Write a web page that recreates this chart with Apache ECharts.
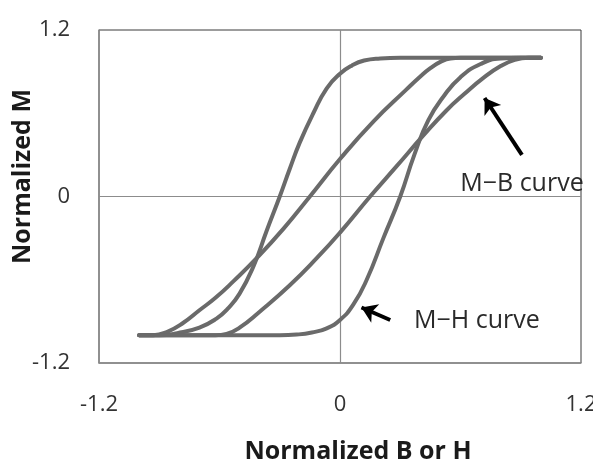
<!DOCTYPE html>
<html>
<head>
<meta charset="utf-8">
<script src="https://cdn.jsdelivr.net/npm/echarts@6/dist/echarts.min.js"></script>
<style>
html,body{margin:0;padding:0;background:#ffffff;}
#chart{width:593px;height:459px;}
</style>
</head>
<body>
<div id="chart"></div>
<script>
// Axis ticks
const xTicks = [-1.2, 0, 1.2];
const yTicks = [-1.2, 0, 1.2];

// Branch data: [normalized B or H, normalized M]
const mhDescending = [
  [1.0, 1.0], [0.3, 1.0], [0.2, 0.995], [0.12, 0.98], [0.06, 0.945], [0.0, 0.885],
  [-0.066, 0.78], [-0.133, 0.6], [-0.2, 0.39], [-0.25, 0.2], [-0.3, 0.0],
  [-0.366, -0.25], [-0.43, -0.5], [-0.5, -0.7], [-0.56, -0.81], [-0.615, -0.88],
  [-0.7, -0.945], [-0.81, -0.985], [-0.9, -1.0], [-1.0, -1.0]
];
const mhAscending = [
  [-1.0, -1.0], [-0.3, -1.0], [-0.216, -0.995], [-0.14, -0.98], [-0.066, -0.95],
  [0.0, -0.89], [0.066, -0.78], [0.133, -0.6], [0.216, -0.3], [0.3, 0.0],
  [0.37, 0.3], [0.44, 0.55], [0.52, 0.73], [0.6, 0.86], [0.7, 0.955], [0.8, 0.995], [0.9, 1.0], [1.0, 1.0]
];
const mbDescending = [
  [1.0, 1.0], [0.6, 1.0], [0.55, 0.995], [0.5, 0.97], [0.45, 0.925], [0.4, 0.865],
  [0.33, 0.77], [0.166, 0.54], [0.0, 0.27], [-0.15, 0.0], [-0.28, -0.23],
  [-0.415, -0.445], [-0.53, -0.61], [-0.62, -0.73], [-0.7, -0.82], [-0.78, -0.91],
  [-0.86, -0.975], [-0.93, -1.0], [-1.0, -1.0]
];
const mbAscending = [
  [-1.0, -1.0], [-0.62, -1.0], [-0.565, -0.99], [-0.5, -0.945], [-0.4, -0.83],
  [-0.25, -0.64], [-0.116, -0.445], [0.0, -0.26], [0.15, 0.0], [0.28, 0.215],
  [0.415, 0.44], [0.53, 0.62], [0.62, 0.74], [0.714, 0.855], [0.8, 0.94], [0.87, 0.985],
  [0.94, 1.0], [1.0, 1.0]
];

// Annotation texts
const annotationTexts = ['M\u2212B curve', 'M\u2212H curve'];

const chart = echarts.init(document.getElementById('chart'), null, {renderer: 'canvas'});

const curveStyle = {color: '#6a6a6a', width: 4, cap: 'round', join: 'round'};
function branch(name, data) {
  return {
    name: name,
    type: 'line',
    data: data,
    showSymbol: false,
    smooth: 0.5,
    lineStyle: curveStyle,
    itemStyle: {color: '#6a6a6a'},
    silent: true,
    clip: false,
    z: 3
  };
}

const font = '"Open Sans", "Noto Sans", sans-serif';

const option = {
  animation: false,
  backgroundColor: '#ffffff',
  grid: {
    left: 99, right: 12, top: 30, bottom: 96,
    outerBoundsMode: 'none',
    containLabel: false,
    show: true, borderColor: '#3a3a3a', borderWidth: 1, backgroundColor: 'transparent'
  },
  xAxis: {
    type: 'value',
    min: xTicks[0], max: xTicks[xTicks.length - 1], interval: xTicks[1] - xTicks[0],
    name: 'Normalized B or H',
    nameLocation: 'middle',
    nameGap: 76,
    nameTextStyle: {fontFamily: font, fontWeight: 'bold', fontSize: 25, color: '#1a1a1a', padding: [0, 0, 0, 36]},
    axisLine: {show: true, onZero: false, lineStyle: {color: '#8c8c8c', width: 1.5}},
    axisTick: {show: false},
    axisLabel: {margin: 31, fontFamily: font, fontSize: 22, color: '#333333'},
    splitLine: {show: true, showMinLine: false, showMaxLine: false, lineStyle: {color: '#8c8c8c', width: 1.2}}
  },
  yAxis: {
    type: 'value',
    min: yTicks[0], max: yTicks[yTicks.length - 1], interval: yTicks[1] - yTicks[0],
    name: 'Normalized M',
    nameLocation: 'middle',
    nameGap: 64,
    nameMoveOverlap: false,
    nameTextStyle: {fontFamily: font, fontWeight: 'bold', fontSize: 25, color: '#1a1a1a', padding: [0, 0, 0, 40]},
    axisLine: {show: true, onZero: false, lineStyle: {color: '#8c8c8c', width: 1.5}},
    axisTick: {show: false},
    axisLabel: {margin: 29, fontFamily: font, fontSize: 22, color: '#333333'},
    splitLine: {show: true, showMinLine: false, showMaxLine: false, lineStyle: {color: '#8c8c8c', width: 1.2}}
  },
  series: [
    branch('M-H descending', mhDescending),
    branch('M-H ascending', mhAscending),
    branch('M-B descending', mbDescending),
    branch('M-B ascending', mbAscending),
    {
      name: 'annotations',
      type: 'scatter',
      data: [],
      silent: true,
      z: 5,
      markLine: {
        silent: true,
        symbol: ['none', 'arrow'],
        symbolSize: 15,
        label: {show: false},
        lineStyle: {color: '#000000', width: 4, type: 'solid'},
        emphasis: {disabled: true},
        data: [
          [{coord: [0.906, 0.30]}, {coord: [0.72, 0.71]}],
          [{coord: [0.25, -0.89]}, {coord: [0.107, -0.80]}]
        ]
      },
      markPoint: {
        silent: true,
        symbol: 'circle',
        symbolSize: 1,
        itemStyle: {color: 'rgba(0,0,0,0)'},
        label: {show: true, position: 'inside', formatter: '{b}', fontFamily: font, fontSize: 25, color: '#2a2a2a'},
        data: [
          {name: annotationTexts[0], coord: [0.906, 0.09]},
          {name: annotationTexts[1], coord: [0.682, -0.897]}
        ]
      }
    }
  ]
};

chart.setOption(option);
</script>
</body>
</html>
